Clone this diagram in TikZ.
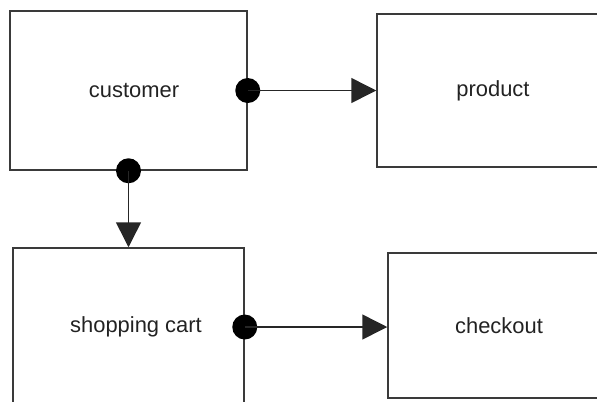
\documentclass[tikz,border=0pt]{standalone}
\usepackage{fontspec}
\setmainfont{Liberation Sans}
\usetikzlibrary{arrows.meta}
\definecolor{boxline}{HTML}{3A3A3A}
\definecolor{txt}{HTML}{222222}
\begin{document}
\begin{tikzpicture}[x=1bp,y=-1bp,
  lbl/.style={text=txt,font=\fontsize{22}{26}\selectfont},
  box/.style={draw=boxline,line width=1.5bp,rectangle,inner sep=0pt,lbl},
  dotmark/.style={circle,fill=black,inner sep=0pt,minimum size=25bp},
  conn/.style={draw=black!85,line width=1.5bp,-{Triangle[length=25bp,width=25bp]}}]
\useasboundingbox (0,0) rectangle (597,401);
\clip (0,0) rectangle (597,401);
\node[box,minimum width=237bp,minimum height=159bp,
  label={[xshift=5.5bp,lbl]center:customer}]
  (customer) at (128.5,90.5) {};
\node[box,minimum width=232bp,minimum height=153bp] (product) at (493,90.5) {product};
\node[box,minimum width=231bp,minimum height=158bp,
  label={[xshift=7.5bp,lbl]center:shopping cart}]
  (cart) at (128.5,327) {};
\node[box,minimum width=222bp,minimum height=145bp] (checkout) at (499,325.5) {checkout};
\node[dotmark] (d1) at (customer.east) {};
\node[dotmark] (d2) at (customer.south) {};
\node[dotmark] (d3) at (cart.east) {};
\draw[conn] (d1.center) -- (product.west);
\draw[conn] (d2.center) -- (cart.north);
\draw[conn] (d3.center) -- (checkout.west |- d3.center);
\end{tikzpicture}
\end{document}
